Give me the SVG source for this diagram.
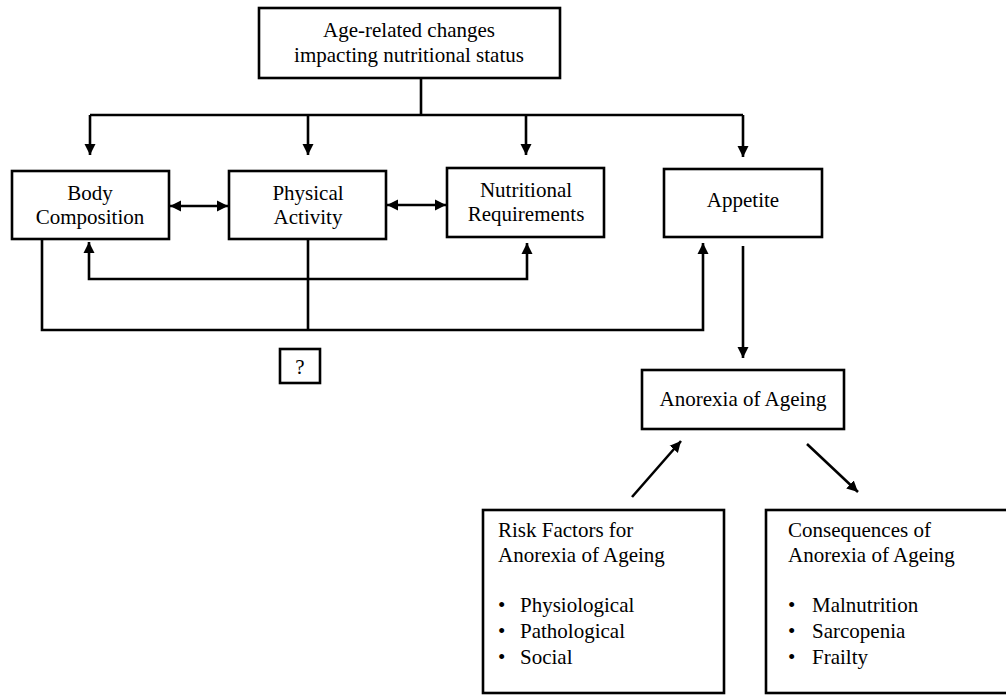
<svg xmlns="http://www.w3.org/2000/svg" width="1006" height="695" viewBox="0 0 1006 695">
<style>
.box{fill:#fff;stroke:#000;stroke-width:2.6}
.ln{fill:none;stroke:#000;stroke-width:2.6}
.c{text-anchor:middle}
</style>
<defs>
<marker id="ah" markerUnits="userSpaceOnUse" markerWidth="12" markerHeight="12" refX="11" refY="5.5" orient="auto-start-reverse" viewBox="0 0 12 11">
<path d="M0,0 L11,5.5 L0,11 z" fill="#000"/>
</marker>
</defs>
<rect width="1006" height="695" fill="#fff"/>
<g id="connectors">
<path class="ln" d="M421,78 V115"/>
<path class="ln" d="M90,115 H743"/>
<path class="ln" d="M90,115 V155" marker-end="url(#ah)"/>
<path class="ln" d="M308,115 V155" marker-end="url(#ah)"/>
<path class="ln" d="M526,115 V155" marker-end="url(#ah)"/>
<path class="ln" d="M743,115 V157" marker-end="url(#ah)"/>
<path class="ln" d="M170,206 H228" marker-start="url(#ah)" marker-end="url(#ah)"/>
<path class="ln" d="M387,205 H446" marker-start="url(#ah)" marker-end="url(#ah)"/>
<path class="ln" d="M89,242 V279 H527 V243" marker-start="url(#ah)" marker-end="url(#ah)"/>
<path class="ln" d="M42,239 V330 H703 V243" marker-end="url(#ah)"/>
<path class="ln" d="M308,239 V330"/>
<path class="ln" d="M743,246 V358" marker-end="url(#ah)"/>
<path class="ln" d="M632,497 L681,441" marker-end="url(#ah)"/>
<path class="ln" d="M807,444 L858,492" marker-end="url(#ah)"/>
</g>
<g font-family="Liberation Serif, Times New Roman, Times, serif" font-size="21" fill="#000">
<g id="node-top">
<rect class="box" x="259" y="8" width="301" height="70"/>
<text class="c" x="409" y="37">Age-related changes</text>
<text class="c" x="409" y="62">impacting nutritional status</text>
</g>
<g id="node-body">
<rect class="box" x="12" y="171" width="157" height="68"/>
<text class="c" x="90" y="200">Body</text>
<text class="c" x="90" y="224">Composition</text>
</g>
<g id="node-physical">
<rect class="box" x="229" y="171" width="157" height="68"/>
<text class="c" x="308" y="200">Physical</text>
<text class="c" x="308" y="224">Activity</text>
</g>
<g id="node-nutritional">
<rect class="box" x="447" y="168" width="157" height="69"/>
<text class="c" x="526" y="197">Nutritional</text>
<text class="c" x="526" y="221">Requirements</text>
</g>
<g id="node-appetite">
<rect class="box" x="664" y="169" width="158" height="68"/>
<text class="c" x="743" y="207">Appetite</text>
</g>
<g id="node-question">
<rect class="box" x="280" y="349" width="40" height="34"/>
<text class="c" x="300" y="374">?</text>
</g>
<g id="node-anorexia">
<rect class="box" x="642" y="370" width="202" height="59"/>
<text class="c" x="743" y="406">Anorexia of Ageing</text>
</g>
<g id="node-risk">
<rect class="box" x="483" y="510" width="241" height="183"/>
<text x="498" y="537">Risk Factors for</text>
<text x="498" y="562">Anorexia of Ageing</text>
<text x="498" y="612">•</text><text x="520" y="612">Physiological</text>
<text x="498" y="638">•</text><text x="520" y="638">Pathological</text>
<text x="498" y="664">•</text><text x="520" y="664">Social</text>
</g>
<g id="node-consequences">
<rect class="box" x="766" y="510" width="260" height="183"/>
<text x="788" y="537">Consequences of</text>
<text x="788" y="562">Anorexia of Ageing</text>
<text x="788" y="612">•</text><text x="812" y="612">Malnutrition</text>
<text x="788" y="638">•</text><text x="812" y="638">Sarcopenia</text>
<text x="788" y="664">•</text><text x="812" y="664">Frailty</text>
</g>
</g>
</svg>
